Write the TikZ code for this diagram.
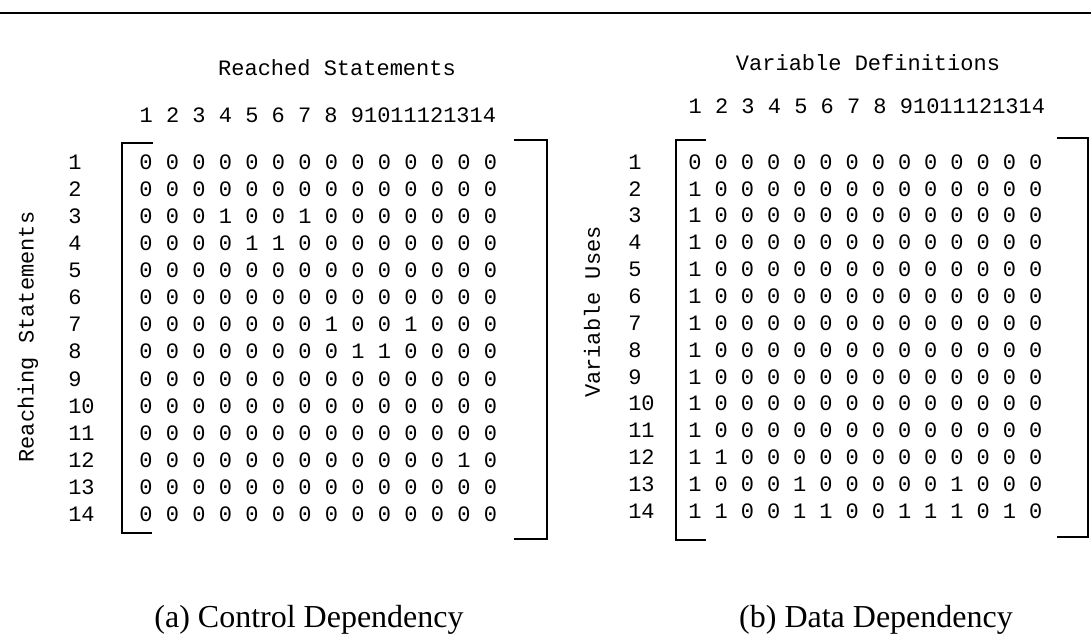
\documentclass[tikz,border=0pt]{standalone}
\usepackage{fontspec}
\setmainfont{Liberation Serif}
\setmonofont{Liberation Mono}
\tikzset{
  bit/.style={font=\ttfamily\fontsize{16.5}{18}\selectfont, inner sep=0pt},
  lbl/.style={font=\ttfamily\fontsize{16.5}{18}\selectfont, inner sep=0pt},
  brak/.style={line width=2pt},
  capt/.style={font=\fontsize{24}{28}\selectfont, inner sep=0pt}
}
\begin{document}
\begin{tikzpicture}[x=0.75pt,y=-0.75pt]
\useasboundingbox (0,0) rectangle (1091,641);
\pgfmathsetmacro\cdx{146}
\pgfmathsetmacro\cdstep{26.5}
\pgfmathsetmacro\cdy{162}
\pgfmathsetmacro\cdrow{27.1}
\pgfmathsetmacro\ddx{695}
\pgfmathsetmacro\ddstep{26.2}
\pgfmathsetmacro\ddy{162}
\pgfmathsetmacro\ddrow{26.85}
\draw[line width=2.2pt] (0,13) -- (1091,13);
\node[lbl] (cdtitle) at (337,68) {Reached Statements};
\node[lbl, anchor=west] (cdhead) at (\cdx-6.6,115) {1 2 3 4 5 6 7 8 91011121314};
\node[lbl, rotate=90] (cdside) at (28,337) {Reaching Statements};
\foreach \r/\bits in {1/{0,0,0,0,0,0,0,0,0,0,0,0,0,0},2/{0,0,0,0,0,0,0,0,0,0,0,0,0,0},3/{0,0,0,1,0,0,1,0,0,0,0,0,0,0},4/{0,0,0,0,1,1,0,0,0,0,0,0,0,0},5/{0,0,0,0,0,0,0,0,0,0,0,0,0,0},6/{0,0,0,0,0,0,0,0,0,0,0,0,0,0},7/{0,0,0,0,0,0,0,1,0,0,1,0,0,0},8/{0,0,0,0,0,0,0,0,1,1,0,0,0,0},9/{0,0,0,0,0,0,0,0,0,0,0,0,0,0},10/{0,0,0,0,0,0,0,0,0,0,0,0,0,0},11/{0,0,0,0,0,0,0,0,0,0,0,0,0,0},12/{0,0,0,0,0,0,0,0,0,0,0,0,1,0},13/{0,0,0,0,0,0,0,0,0,0,0,0,0,0},14/{0,0,0,0,0,0,0,0,0,0,0,0,0,0}} {
  \node[lbl, anchor=west] (cdrow-\r) at (68,\cdy+\cdrow*\r-\cdrow) {\r};
  \foreach \b [count=\c] in \bits \node[bit] (cd-\r-\c) at (\cdx+\cdstep*\c-\cdstep,\cdy+\cdrow*\r-\cdrow) {\b};
}
\draw[brak] (153,143) -- (122,143) -- (122,533) -- (152,533);
\draw[brak] (514,140) -- (547,140) -- (547,539) -- (514,539);
\node[capt] (cdcap) at (309,620) {(a) Control Dependency};
\node[lbl] (ddtitle) at (868,63) {Variable Definitions};
\node[lbl, anchor=west] (ddhead) at (\ddx-6.6,106) {1 2 3 4 5 6 7 8 91011121314};
\node[lbl, rotate=90] (ddside) at (592,312) {Variable Uses};
\foreach \r/\bits in {1/{0,0,0,0,0,0,0,0,0,0,0,0,0,0},2/{1,0,0,0,0,0,0,0,0,0,0,0,0,0},3/{1,0,0,0,0,0,0,0,0,0,0,0,0,0},4/{1,0,0,0,0,0,0,0,0,0,0,0,0,0},5/{1,0,0,0,0,0,0,0,0,0,0,0,0,0},6/{1,0,0,0,0,0,0,0,0,0,0,0,0,0},7/{1,0,0,0,0,0,0,0,0,0,0,0,0,0},8/{1,0,0,0,0,0,0,0,0,0,0,0,0,0},9/{1,0,0,0,0,0,0,0,0,0,0,0,0,0},10/{1,0,0,0,0,0,0,0,0,0,0,0,0,0},11/{1,0,0,0,0,0,0,0,0,0,0,0,0,0},12/{1,1,0,0,0,0,0,0,0,0,0,0,0,0},13/{1,0,0,0,1,0,0,0,0,0,1,0,0,0},14/{1,1,0,0,1,1,0,0,1,1,1,0,1,0}} {
  \node[lbl, anchor=west] (ddrow-\r) at (628,\ddy+\ddrow*\r-\ddrow) {\r};
  \foreach \b [count=\c] in \bits \node[bit] (dd-\r-\c) at (\ddx+\ddstep*\c-\ddstep,\ddy+\ddrow*\r-\ddrow) {\b};
}
\draw[brak] (706,140) -- (676,140) -- (676,540) -- (706,540);
\draw[brak] (1057,138) -- (1088,138) -- (1088,537) -- (1057,537);
\node[capt] (ddcap) at (876,620) {(b) Data Dependency};
\end{tikzpicture}
\end{document}
